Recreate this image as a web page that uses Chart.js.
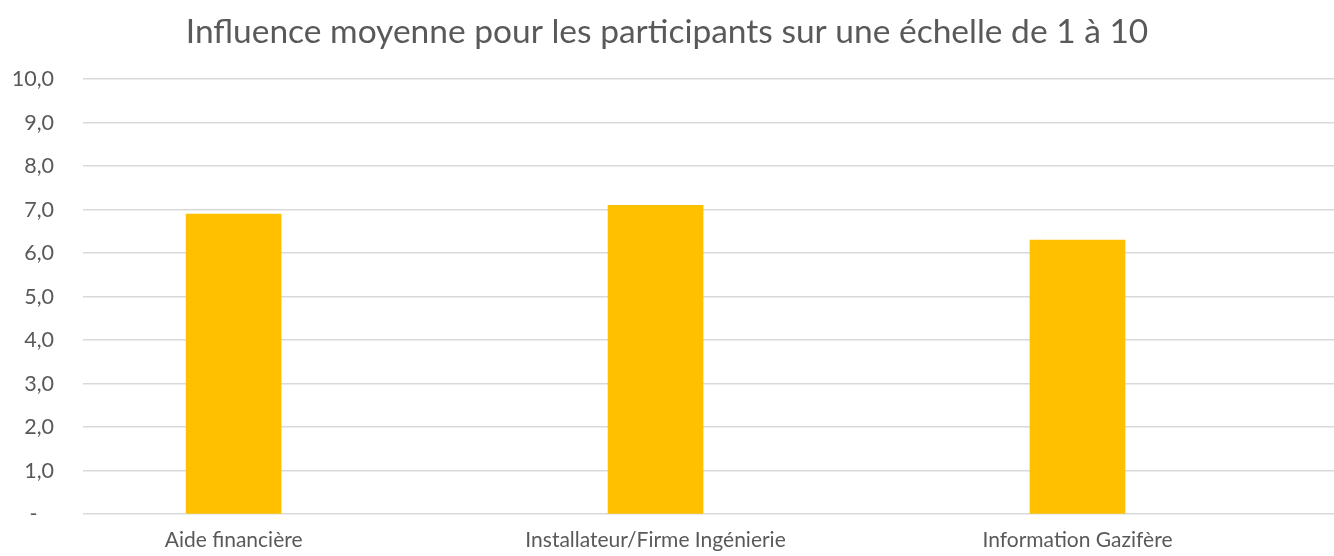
<!DOCTYPE html>
<html>
<head>
<meta charset="utf-8">
<script src="https://cdn.jsdelivr.net/npm/chart.js@4.4.1/dist/chart.umd.min.js"></script>
<style>
  html, body { margin: 0; padding: 0; background: #fff; overflow: hidden; }
  canvas { display: block; }
</style>
</head>
<body>
<canvas id="chart" width="1334" height="556"></canvas>
<script>
const categories = ['Aide financière', 'Installateur/Firme Ingénierie', 'Information Gazifère'];
const values = [6.9, 7.1, 6.3];
const yTickLabels = ['-   ', '1,0', '2,0', '3,0', '4,0', '5,0', '6,0', '7,0', '8,0', '9,0', '10,0'];
const titleText = 'Influence moyenne pour les participants sur une échelle de 1 à 10';

const textColor = '#595959';
const font = 'Lato';

const ctx = document.getElementById('chart').getContext('2d');
new Chart(ctx, {
  type: 'bar',
  data: {
    datasets: [{
      data: values.map((v, i) => ({ x: i, y: v })),
      backgroundColor: '#FFC000',
      borderWidth: 0,
      barThickness: 95,
    }],
  },
  options: {
    responsive: false,
    animation: false,
    devicePixelRatio: 1,
    layout: { padding: 0 },
    plugins: {
      legend: { display: false },
      tooltip: { enabled: false },
      title: {
        display: true,
        text: titleText,
        color: textColor,
        font: { family: font, size: 33.5, weight: 'normal', lineHeight: 1.2 },
        padding: { top: 12, bottom: 27 },
      },
    },
    scales: {
      x: {
        type: 'linear',
        offset: false,
        min: -0.357,
        max: 2.608,
        grid: { display: false },
        border: { display: false },
        afterBuildTicks(scale) {
          scale.ticks = categories.map((c, i) => ({ value: i }));
        },
        afterFit(scale) {
          scale.height = 38;
        },
        ticks: {
          color: textColor,
          font: { family: font, size: 21 },
          padding: 6,
          maxRotation: 0,
          autoSkip: false,
          callback(value) {
            return categories[value];
          },
        },
      },
      y: {
        min: 0,
        max: 10,
        grid: { color: '#d9d9d9', lineWidth: 1.5, drawTicks: false },
        border: { display: false },
        afterFit(scale) {
          scale.width = 83;
        },
        ticks: {
          stepSize: 1,
          color: textColor,
          font: { family: font, size: 21.5 },
          padding: 29,
          callback(value, index) {
            return yTickLabels[index];
          },
        },
      },
    },
  },
});
</script>
</body>
</html>
